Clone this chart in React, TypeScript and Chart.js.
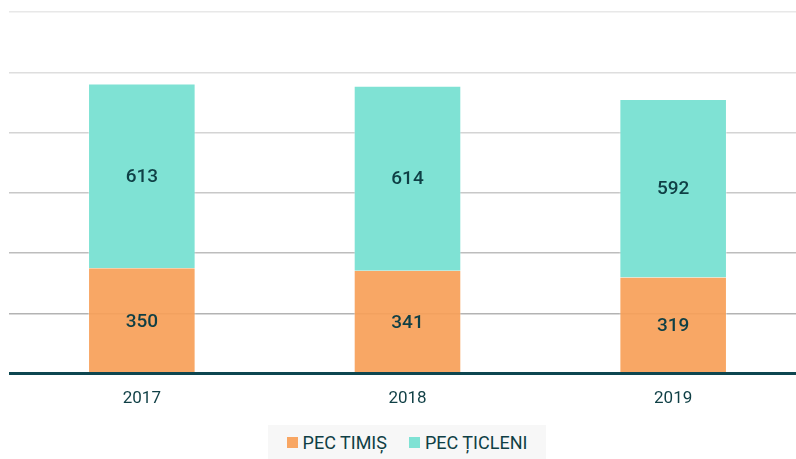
import React, { useEffect, useRef } from "react";
import { Chart, registerables } from "chart.js";

Chart.register(...registerables);

const categories = ["2017", "2018", "2019"];
const pecTimis = [350, 341, 319];
const pecTicleni = [613, 614, 592];
const seriesNames = ["PEC TIMIȘ", "PEC ȚICLENI"];
const yTicks = [0, 200, 400, 600, 800, 1000, 1200];

const ORANGE = "rgba(247,160,88,0.92)";
const ORANGE_SOLID = "#F8A663";
const TEAL = "#7FE2D4";
const DARK = "#0F3F45";
const gridColors = ["#000", "#b3b3b3", "#bdbdbd", "#c8c8c8", "#d4d4d4", "#dedede", "#e8e8e8"];

const FONT = "Roboto, 'Noto Sans', sans-serif";

const labelPlugin = {
  id: "segLabels",
  afterDatasetsDraw(chart: any) {
    const ctx = chart.ctx;
    ctx.save();
    ctx.fillStyle = DARK;
    ctx.font = `500 19px ${FONT}`;
    ctx.textAlign = "center";
    ctx.textBaseline = "middle";
    chart.data.datasets.forEach((ds: any, di: number) => {
      const meta = chart.getDatasetMeta(di);
      meta.data.forEach((bar: any, i: number) => {
        const { x, y, base } = bar.getProps(["x", "y", "base"], true);
        ctx.fillText(String(ds.data[i]), x, (y + base) / 2 + 1);
      });
    });
    ctx.restore();
  },
};

const baselinePlugin = {
  id: "baseline",
  afterDraw(chart: any) {
    const { ctx, chartArea } = chart;
    const y0 = chart.scales.y.getPixelForValue(0);
    ctx.save();
    ctx.strokeStyle = "#0D4650";
    ctx.lineWidth = 3;
    ctx.beginPath();
    ctx.moveTo(chartArea.left, y0);
    ctx.lineTo(chart.width, y0);
    ctx.stroke();
    ctx.restore();
  },
};

export default function App() {
  const ref = useRef<HTMLCanvasElement>(null);
  useEffect(() => {
    if (!ref.current) return;
    const chart = new Chart(ref.current, {
      type: "bar",
      data: {
        labels: categories,
        datasets: [
          {
            label: seriesNames[0],
            data: pecTimis,
            backgroundColor: ORANGE,
            borderColor: "rgba(255,255,255,0.35)",
            borderWidth: { left: 1, right: 1, top: 0, bottom: 0 } as any,
            categoryPercentage: 1,
            barPercentage: 0.405,
          },
          {
            label: seriesNames[1],
            data: pecTicleni,
            backgroundColor: TEAL,
            borderColor: "rgba(255,255,255,0.35)",
            borderWidth: 1,
            categoryPercentage: 1,
            barPercentage: 0.405,
          },
        ],
      },
      options: {
        animation: false,
        responsive: false,
        maintainAspectRatio: false,
        layout: { padding: { left: 9, right: 0, top: 12, bottom: 35 } },
        plugins: {
          legend: { display: false },
          tooltip: { enabled: false },
        },
        scales: {
          x: {
            stacked: true,
            grid: { display: false, drawTicks: false },
            border: { display: false },
            ticks: {
              color: DARK,
              font: { family: FONT, size: 17 },
              padding: 15,
            },
          },
          y: {
            stacked: true,
            min: 0,
            max: 1200,
            z: 1,
            afterBuildTicks: (axis: any) => {
              axis.ticks = yTicks.map((v) => ({ value: v }));
            },
            grid: {
              color: (c: any) => gridColors[c.index] || "#ddd",
              lineWidth: (c: any) => (c.index === 0 ? 0 : 1.5),
              drawTicks: false,
            },
            border: { display: false },
            ticks: { display: false },
          },
        },
      },
      plugins: [labelPlugin, baselinePlugin],
    } as any);
    return () => chart.destroy();
  }, []);

  return (
    <div style={{ position: "absolute", left: 0, top: 0, width: 796, height: 459, overflow: "hidden", background: "#fff" }}>
      <canvas ref={ref} width={806} height={459} style={{ display: "block" }} />
      <div
        style={{
          position: "absolute",
          left: 268,
          top: 425,
          width: 278,
          height: 34,
          background: "#F7F7F7",
          display: "flex",
          alignItems: "center",
          justifyContent: "center",
          fontFamily: FONT,
          fontSize: 18,
          color: DARK,
          gap: 22,
        }}
      >
        {seriesNames.map((n, i) => (
          <div key={n} style={{ display: "flex", alignItems: "center" }}>
            <span
              style={{
                display: "inline-block",
                width: 11,
                height: 11,
                background: i === 0 ? ORANGE_SOLID : TEAL,
                marginRight: 5,
              }}
            />
            <span>{n}</span>
          </div>
        ))}
      </div>
    </div>
  );
}
